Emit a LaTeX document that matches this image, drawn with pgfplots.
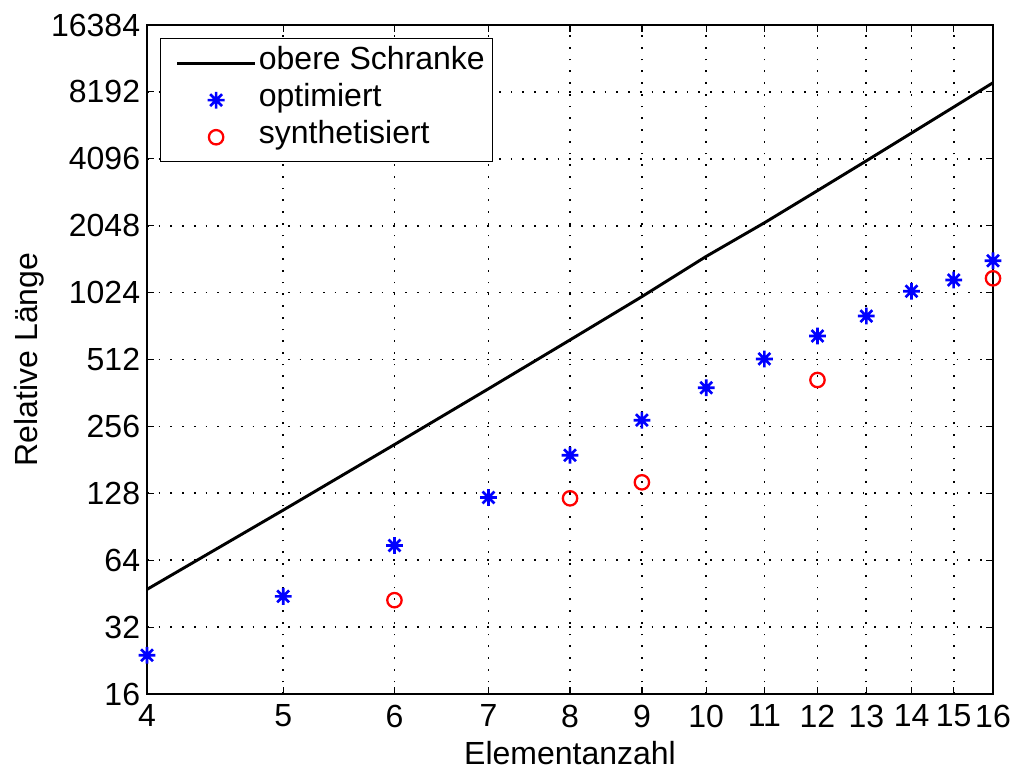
\documentclass[border=0pt]{standalone}
\usepackage{fontspec}
\setmainfont{Liberation Sans}
\usepackage{pgfplots}
\pgfplotsset{compat=1.18}

\pgfdeclareplotmark{mstar}{%
  \pgfpathmoveto{\pgfqpoint{0pt}{\pgfplotmarksize}}\pgfpathlineto{\pgfqpoint{0pt}{-\pgfplotmarksize}}%
  \pgfpathmoveto{\pgfqpoint{\pgfplotmarksize}{0pt}}\pgfpathlineto{\pgfqpoint{-\pgfplotmarksize}{0pt}}%
  \pgfpathmoveto{\pgfqpoint{0.707\pgfplotmarksize}{0.707\pgfplotmarksize}}\pgfpathlineto{\pgfqpoint{-0.707\pgfplotmarksize}{-0.707\pgfplotmarksize}}%
  \pgfpathmoveto{\pgfqpoint{-0.707\pgfplotmarksize}{0.707\pgfplotmarksize}}\pgfpathlineto{\pgfqpoint{0.707\pgfplotmarksize}{-0.707\pgfplotmarksize}}%
  \pgfusepathqstroke}

\pgfplotsset{
  lineleg/.style={legend image code/.code={\path (0pt,0pt); \draw[##1] (7.5pt,0pt) -- (65.5pt,0pt);}},
  markleg/.style={legend image code/.code={\path (0pt,0pt) (65.5pt,0pt); \draw[##1] plot coordinates {(36.5pt,0pt)};}},
}

\begin{document}
\begin{tikzpicture}[font=\fontsize{24}{28}\selectfont]
\begin{axis}[
  scale only axis,
  width=634.5pt, height=501.75pt,
  xmode=log, ymode=log, log basis y=2,
  xmin=4, xmax=16, ymin=16, ymax=16384,
  xtick={4,5,6,7,8,9,10,11,12,13,14,15,16},
  xticklabels={4,5,6,7,8,9,10,11,12,13,14,15,16},
  ytick={16,32,64,128,256,512,1024,2048,4096,8192,16384},
  yticklabels={16,32,64,128,256,512,1024,2048,4096,8192,16384},
  xminorticks=false, yminorticks=false,
  /pgf/number format/assume math mode=true,
  tick align=inside,
  major tick length=5pt,
  every tick/.style={black, line width=0.9pt},
  axis line style={black, line width=0.9pt},
  grid=major,
  major grid style={black, line width=1.3pt, dash pattern=on 1.3pt off 7.5pt},
  xticklabel style={inner sep=0pt, yshift=-8pt},
  yticklabel style={inner sep=0pt, xshift=-5pt},
  xlabel={Elementanzahl},
  ylabel={Relative Länge},
  xlabel style={at={(axis description cs:0.5,0)}, anchor=center, yshift=-44pt},
  ylabel style={at={(axis description cs:0,0.5)}, anchor=center, yshift=88pt},
  legend cell align=left,
  legend style={at={(0.0154,0.9806)}, anchor=north west, draw=black, line width=0.9pt,
    inner xsep=4pt, inner ysep=4.5pt,
    nodes={text height=16pt, text depth=6pt, inner ysep=2.9pt},
    /tikz/every even column/.append style={column sep=7.5pt}},
]
\addplot[black, line width=2.2pt, lineleg] coordinates {
(4,47.3) (5,107.5) (6,212) (7,378) (8,627) (9,982) (10,1490) (11,2110) (12,2945) (13,4010) (14,5350) (15,7000) (16,9008)};
\addlegendentry{obere Schranke}
\addplot[only marks, blue, mark=mstar, mark size=6.3pt, line width=2pt, markleg] coordinates {
(4,23.9) (5,44.0) (6,74.5) (7,122.5) (8,189.8) (9,273) (10,382) (11,515) (12,653) (13,803) (14,1038) (15,1167) (16,1425)};
\addlegendentry{optimiert}
\addplot[only marks, red, mark=o, mark size=5.4pt, line width=1.7pt, markleg] coordinates {
(6,42.3) (8,121.5) (9,143.4) (12,414) (16,1187)};
\addlegendentry{synthetisiert}
\end{axis}
\path ([shift={(-110.25pt,-54.75pt)}]current axis.south west) rectangle ([shift={(16.5pt,18.75pt)}]current axis.north east);
\end{tikzpicture}
\end{document}
